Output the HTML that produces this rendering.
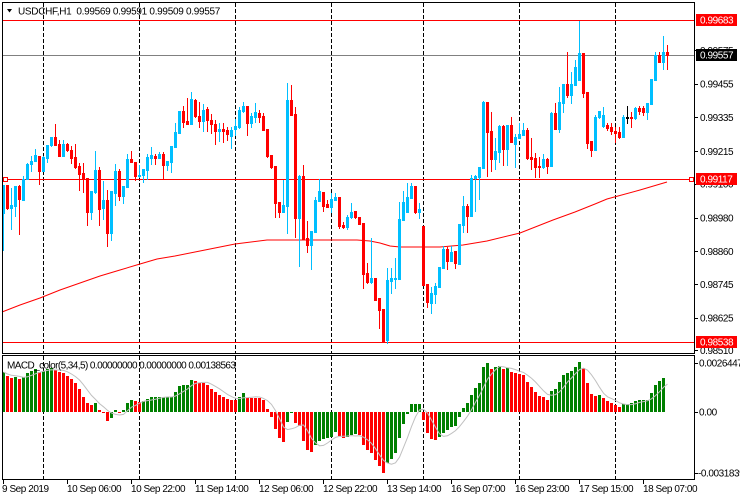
<!DOCTYPE html>
<html><head><meta charset="utf-8">
<style>
html,body{margin:0;padding:0;background:#fff;}
body{width:740px;height:500px;overflow:hidden;}
svg{display:block;}
text{font-family:"Liberation Sans",Arial,sans-serif;font-size:10px;fill:#000;}
</style></head><body>
<svg id="c" width="740" height="500" viewBox="0 0 740 500" xmlns="http://www.w3.org/2000/svg">
<rect width="740" height="500" fill="#fff"/>
<g stroke="#000" stroke-width="1" stroke-dasharray="4 2" shape-rendering="crispEdges">
<line x1="43.5" y1="3" x2="43.5" y2="353"/><line x1="43.5" y1="356" x2="43.5" y2="479"/>
<line x1="139.5" y1="3" x2="139.5" y2="353"/><line x1="139.5" y1="356" x2="139.5" y2="479"/>
<line x1="235.5" y1="3" x2="235.5" y2="353"/><line x1="235.5" y1="356" x2="235.5" y2="479"/>
<line x1="331.5" y1="3" x2="331.5" y2="353"/><line x1="331.5" y1="356" x2="331.5" y2="479"/>
<line x1="423.5" y1="3" x2="423.5" y2="353"/><line x1="423.5" y1="356" x2="423.5" y2="479"/>
<line x1="519.5" y1="3" x2="519.5" y2="353"/><line x1="519.5" y1="356" x2="519.5" y2="479"/>
<line x1="615.5" y1="3" x2="615.5" y2="353"/><line x1="615.5" y1="356" x2="615.5" y2="479"/>
</g>
<g shape-rendering="crispEdges">
<line x1="3" y1="20.5" x2="694" y2="20.5" stroke="#ff0000"/>
<line x1="3" y1="55.5" x2="694" y2="55.5" stroke="#808080"/>
<line x1="3" y1="179.5" x2="690" y2="179.5" stroke="#ff0000"/>
<line x1="3" y1="342.5" x2="694" y2="342.5" stroke="#ff0000"/>
</g>
<polyline fill="none" stroke="#ff0000" stroke-width="1" points="2,312 20,305 40,298 60,290 80,283 100,276 120,270 140,264 157,259 175,256 200,251 235,244 267,240 300,240 357,240 370,241 380,243 390,246 400,247 440,247 463,245 487,241 520,233 553,220 575,212 595,204 607,199 640,190 667,182"/>
<g id="cd" shape-rendering="crispEdges"></g>
<g id="mh" shape-rendering="crispEdges"></g>
<polyline id="sig" fill="none" stroke="#c0c0c0" stroke-width="1" points=""/>
<rect x="3.5" y="177.5" width="4" height="4" fill="#fff" stroke="#ff0000"/>
<g fill="none" stroke="#000" shape-rendering="crispEdges">
<rect x="2.5" y="2.5" width="692" height="351"/>
<rect x="2.5" y="355.5" width="692" height="124"/>
</g>
<rect x="689.5" y="177.5" width="4" height="4" fill="#fff" stroke="#ff0000" shape-rendering="crispEdges"/>
<g stroke="#000" shape-rendering="crispEdges">
<line x1="695" y1="50.5" x2="698" y2="50.5"/>
<line x1="695" y1="84.5" x2="698" y2="84.5"/>
<line x1="695" y1="117.5" x2="698" y2="117.5"/>
<line x1="695" y1="151.5" x2="698" y2="151.5"/>
<line x1="695" y1="184.5" x2="698" y2="184.5"/>
<line x1="695" y1="218.5" x2="698" y2="218.5"/>
<line x1="695" y1="251.5" x2="698" y2="251.5"/>
<line x1="695" y1="284.5" x2="698" y2="284.5"/>
<line x1="695" y1="318.5" x2="698" y2="318.5"/>
<line x1="695" y1="350.5" x2="698" y2="350.5"/>
<line x1="695" y1="363.5" x2="698" y2="363.5"/>
<line x1="695" y1="412.5" x2="698" y2="412.5"/>
<line x1="695" y1="473.5" x2="698" y2="473.5"/>
<line x1="3.5" y1="480" x2="3.5" y2="484"/>
<line x1="67.5" y1="480" x2="67.5" y2="484"/>
<line x1="131.5" y1="480" x2="131.5" y2="484"/>
<line x1="195.5" y1="480" x2="195.5" y2="484"/>
<line x1="259.5" y1="480" x2="259.5" y2="484"/>
<line x1="323.5" y1="480" x2="323.5" y2="484"/>
<line x1="387.5" y1="480" x2="387.5" y2="484"/>
<line x1="451.5" y1="480" x2="451.5" y2="484"/>
<line x1="515.5" y1="480" x2="515.5" y2="484"/>
<line x1="579.5" y1="480" x2="579.5" y2="484"/>
<line x1="643.5" y1="480" x2="643.5" y2="484"/>
</g>
<g letter-spacing="-0.44">
<text x="700" y="54">0.99575</text>
<text x="700" y="87.6">0.99455</text>
<text x="700" y="121.1">0.99335</text>
<text x="700" y="155.1">0.99215</text>
<text x="700" y="187.6">0.99100</text>
<text x="700" y="221.6">0.98980</text>
<text x="700" y="255.1">0.98860</text>
<text x="700" y="288.1">0.98745</text>
<text x="700" y="321.6">0.98625</text>
<text x="700" y="354">0.98510</text>
</g>
<rect x="696" y="14" width="41" height="12" fill="#ff0000"/>
<text x="700" y="23.6" letter-spacing="-0.44" style="fill:#fff">0.99683</text>
<rect x="696" y="49" width="41" height="12" fill="#000"/>
<text x="700" y="58.6" letter-spacing="-0.44" style="fill:#fff">0.99557</text>
<rect x="696" y="173" width="41" height="12" fill="#ff0000"/>
<text x="700" y="182.6" letter-spacing="-0.44" style="fill:#fff">0.99117</text>
<rect x="696" y="336" width="41" height="12" fill="#ff0000"/>
<text x="700" y="345.6" letter-spacing="-0.44" style="fill:#fff">0.98538</text>
<g letter-spacing="-0.44">
<text x="699" y="366.6">0.0026447</text>
<text x="699" y="415.6">0.00</text>
<text x="698" y="476.6">-0.0031839</text>
</g>
<polygon points="7,9 12,9 9.5,12.5" fill="#000"/>
<text x="18" y="14.5" letter-spacing="-0.3" style="white-space:pre">USDCHF,H1  0.99569 0.99591 0.99509 0.99557</text>
<text x="7" y="368.5" letter-spacing="-0.58" style="white-space:pre">MACD_color(5,34,5) 0.00000000 0.00000000 0.00138563</text>
<g letter-spacing="-0.45">
<text x="2" y="492">9 Sep 2019</text>
<text x="67" y="492">10 Sep 06:00</text>
<text x="131" y="492">10 Sep 22:00</text>
<text x="195" y="492">11 Sep 14:00</text>
<text x="259" y="492">12 Sep 06:00</text>
<text x="323" y="492">12 Sep 22:00</text>
<text x="387" y="492">13 Sep 14:00</text>
<text x="451" y="492">16 Sep 07:00</text>
<text x="515" y="492">16 Sep 23:00</text>
<text x="579" y="492">17 Sep 15:00</text>
<text x="643" y="492">18 Sep 07:00</text>
</g>
</svg>
<script>
(function(){
var D=[
['u',185,213,185,250],['d',185,208,185,209],['u',205,208,188,229],['u',186,206,186,216],['d',186,199,185,234],
['u',179,200,176,200],['u',164,179,163,179],['u',161,164,156,171],['u',155,161,149,161],['d',156,171,156,184],
['u',157,171,156,171],['u',145,158,145,162],['u',137,145,137,146],['d',137,145,124,145],['d',144,156,140,156],
['u',144,156,140,156],['d',144,150,143,151],['d',150,158,146,163],['d',157,167,144,168],['d',166,174,163,190],
['d',173,179,163,192],['d',178,212,178,225],['u',191,212,191,219],['u',170,192,151,193],['d',170,209,167,225],
['u',200,208,181,219],['d',200,233,190,246],['u',191,233,191,240],['u',171,193,164,205],['d',171,196,169,200],
['u',186,196,186,203],['u',159,187,154,187],['d',159,162,151,162],['d',162,176,162,180],['u',175,176,165,177],
['u',169,175,169,182],['u',157,170,154,179],['u',155,158,147,164],['d',156,158,154,164],['u',154,158,152,158],
['d',154,165,152,179],['u',161,165,161,170],['u',146,162,146,172],['u',132,147,123,147],['u',111,133,111,133],
['d',111,122,106,127],['d',121,124,98,124],['u',99,124,92,124],['d',100,116,99,117],['d',116,121,102,127],
['u',110,121,104,131],['d',109,120,107,131],['d',120,124,114,133],['d',124,131,120,144],['u',129,131,123,141],
['d',129,131,123,142],['d',130,134,127,140],['u',130,136,127,148],['u',126,129,119,135],['u',110,127,107,128],
['u',106,111,102,112],['d',106,123,106,135],['u',116,123,113,127],['u',112,117,103,122],['d',113,117,110,122],
['d',116,130,113,130],['d',129,156,129,157],['d',155,167,155,168],['d',166,203,166,217],['d',202,212,202,217],
['u',205,212,180,212],['u',100,206,83,233],['d',100,115,85,115],['d',114,218,107,237],['u',176,218,175,266],
['d',176,239,165,239],['d',238,245,221,252],['u',231,245,231,269],['u',200,232,197,232],['u',191,201,179,201],
['d',192,206,192,211],['d',204,207,200,207],['u',199,207,193,212],['u',197,200,193,200],['d',197,226,197,228],
['d',225,227,222,228],['u',217,227,215,229],['u',212,217,203,218],['d',211,217,211,218],['d',217,224,217,224],
['d',223,274,223,288],['d',273,282,263,283],['u',278,282,238,283],['d',278,300,278,300],['d',298,310,298,328],
['d',309,341,309,342],['u',280,340,268,343],['u',278,281,268,293],['u',278,279,258,288],['u',219,279,202,279],
['u',202,220,191,220],['u',197,212,183,212],['u',186,198,183,198],['d',186,212,186,213],['u',209,212,203,218],
['d',226,285,226,285],['d',284,302,284,307],['u',293,303,287,313],['u',286,294,283,303],['u',267,287,267,287],
['u',249,268,246,268],['d',249,261,247,269],['u',252,261,246,261],['d',251,263,251,268],['u',224,264,224,264],
['u',206,225,196,232],['d',206,216,204,232],['u',178,216,175,216],['u',176,178,175,211],['u',167,177,167,199],
['u',102,168,101,168],['d',102,132,102,176],['d',131,159,112,171],['u',151,159,138,169],['u',126,152,125,162],
['d',126,149,125,165],['u',125,149,125,165],['d',125,142,117,142],['u',137,144,134,167],['u',134,138,123,138],
['u',130,135,123,135],['d',130,158,128,159],['d',157,159,138,169],['d',158,167,153,177],['d',166,167,157,177],
['u',159,167,154,168],['d',159,166,158,173],['u',113,166,112,166],['d',113,129,103,129],['u',102,129,87,132],
['u',84,103,84,112],['d',84,95,52,97],['u',84,95,72,103],['u',67,85,60,85],['u',53,80,21,80],
['d',53,93,53,97],['d',92,143,92,148],['d',141,150,141,156],['u',117,150,115,150],['u',111,117,111,118],
['u',115,126,107,127],['d',125,128,123,130],['d',127,131,123,134],['d',131,133,127,142],['d',132,137,127,138],
['u',117,137,115,137],['k',117,118,106,123],['d',117,118,112,127],['u',108,118,107,119],['d',108,111,106,114],
['d',108,112,106,115],['u',103,112,103,119],['u',79,104,79,104],['u',55,80,52,80],['d',55,62,52,62],
['u',52,62,36,69],['d',52,55,45,69]
];
var col={u:'#00bfff',d:'#ff0000',k:'#000000'};
var s='';
for(var j=0;j<D.length;j++){
 var c=D[j],x=2+4*j,f=col[c[0]];
 s+='<rect x="'+(x+1)+'" y="'+c[3]+'" width="1" height="'+Math.max(1,c[4]-c[3]+1)+'" fill="'+f+'"/>';
 s+='<rect x="'+x+'" y="'+c[1]+'" width="3" height="'+Math.max(1,c[2]-c[1]+1)+'" fill="'+f+'"/>';
}
document.getElementById('cd').innerHTML=s;

var M=[372,376,378,377,379,377,373,371,369,372,
371,369,368,370,372,373,376,379,383,389,
397,403,405,403,410,413,421,418,410,413,
410,403,400,401,402,401,399,397,397,397,
397,397,397,392,386,385,385,380,381,383,
383,385,389,392,395,397,399,400,400,397,
393,398,398,398,398,400,409,417,429,438,
442,422,413,423,426,441,450,452,445,441,
439,438,437,432,436,438,437,435,434,435,
445,450,453,460,466,473,463,459,453,438,
424,414,404,404,404,420,433,439,440,437,
433,430,427,426,417,408,403,395,388,383,
367,363,369,367,366,369,368,372,373,374,
375,382,387,392,396,397,400,391,389,382,
375,373,371,367,362,368,383,394,396,395,
398,401,403,405,407,404,404,403,401,400,
400,400,393,385,381,378];
var K='grrgrggggrgggrrrrrrrrrrgrrrggrgggrrggggggggggggggrrrrrrrrrrgg'+
'grrrrrrrrrrggrrrrrgggggrrgggrrrrrrggggggggrrrrgggggggggggggggrggrgrrrrrrrrrgggggggrrrrgrrrrrgggggggggggg';
// build colours explicitly per index
var C=[];
var seg=['grrgrggggr','gggrrrrrrr','rrrgrrrggr','gggrrggggg','ggggggggrr','rrrrrrrrrg','grrrrrrrrr','rggrrrrrgg','ggggrrgggr','rrrrrrgggg','gggggrrrrg','gggggggggg','ggrggrgrrr','rrrrrrrggg','gggggrrrrg','rrrrrggggg','gggggg'];
for(var a=0;a<seg.length;a++)for(var b=0;b<seg[a].length;b++)C.push(seg[a][b]);
var h='';
for(var j=0;j<M.length;j++){
 var x=2+4*j,y=M[j],f=(C[j]==='r')?'#ff0000':'#008000';
 if(y<412){h+='<rect x="'+x+'" y="'+y+'" width="3" height="'+(412-y)+'" fill="'+f+'"/>';}
 else{h+='<rect x="'+x+'" y="412" width="3" height="'+Math.max(1,y-412)+'" fill="'+f+'"/>';}
}
document.getElementById('mh').innerHTML=h;
var V=[];for(var j=0;j<M.length;j++)V.push(412-M[j]);V.push(29);
var p=[];
for(var j=0;j<V.length;j++){
 var st=Math.max(0,j-4),sum=0,n=0;
 for(var k=st;k<=j;k++){sum+=V[k];n++;}
 p.push((3.5+4*j)+','+(412-sum/n).toFixed(1));
}
document.getElementById('sig').setAttribute('points',p.join(' '));
})();
</script>
</body></html>
